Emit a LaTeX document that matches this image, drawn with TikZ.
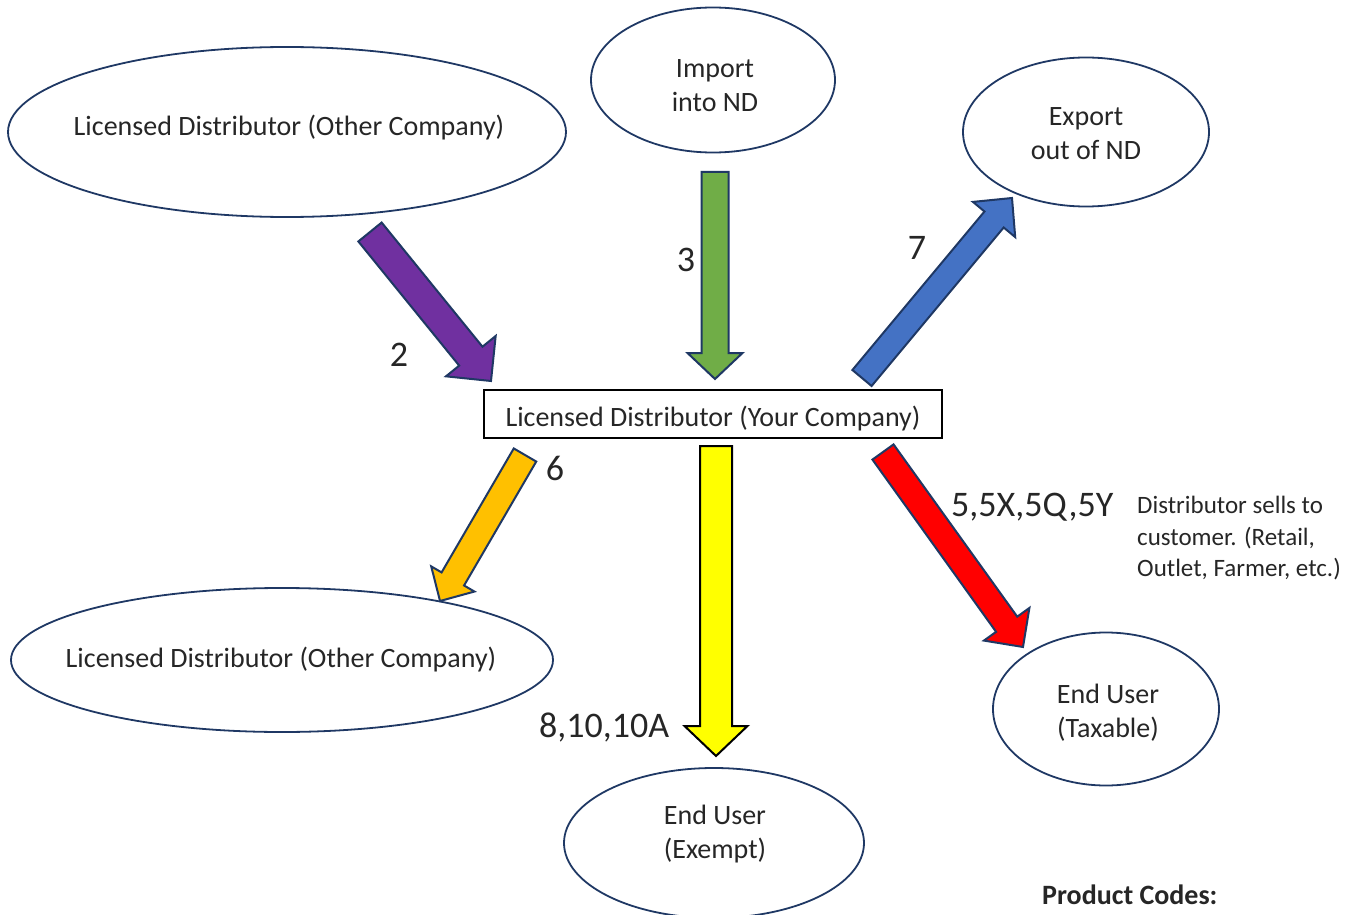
\documentclass[tikz,border=0pt]{standalone}
\usepackage{fontspec}
\setmainfont{Carlito}
\usetikzlibrary{calc,shapes.geometric}
\definecolor{navy}{HTML}{1F3864}
\definecolor{apurple}{HTML}{7030A0}
\definecolor{agreen}{HTML}{70AD47}
\definecolor{ablue}{HTML}{4472C4}
\definecolor{aorange}{HTML}{FFC000}
\definecolor{ayellow}{HTML}{FFFF00}
\definecolor{ared}{HTML}{FF0000}
\newcommand\blockarrow[7]{%
  \coordinate (ba-h) at ($(#4)!#7!(#3)$);
  \draw[line width=2pt, draw=#2, fill=#1, line join=miter]
    ($(#3)!#5!90:(#4)$) -- ($(ba-h)!#5!90:(#4)$) -- ($(ba-h)!#6!90:(#4)$) -- (#4)
    -- ($(ba-h)!#6!-90:(#4)$) -- ($(ba-h)!#5!-90:(#4)$) -- ($(#3)!#5!-90:(#4)$) -- cycle;
}
\tikzset{
  ell/.style={ellipse, draw=navy, line width=1.8pt, inner sep=0pt},
  txt/.style={font=\fontsize{28}{34}\selectfont, align=center, inner sep=0pt, text=black!85},
  num/.style={font=\fontsize{36}{40}\selectfont, inner sep=0pt, text=black!85},
  note/.style={font=\fontsize{25}{31.5}\selectfont, align=left, inner sep=0pt, text=black!85, anchor=north west},
}
\begin{document}
\begin{tikzpicture}[x=1pt,y=-1pt]
\useasboundingbox (0,0) rectangle (1358,915);
% ellipses
\node[ell, minimum width=558pt, minimum height=170pt] (odtop) at (287,132) {};
\node[txt] (odtopt) at (289,128) {Licensed Distributor (Other Company)};
\node[ell, minimum width=244pt, minimum height=145pt] (imp) at (713,80) {};
\node[txt] (impt) at (715,86) {Import\\into ND};
\node[ell, minimum width=246pt, minimum height=149pt] (exp) at (1086,132) {};
\node[txt] (expt) at (1086,134) {Export\\out of ND};
\node[draw=black, line width=1.2pt, minimum width=458pt, minimum height=48pt, inner sep=0pt] (you) at (713,414) {};
\node[txt] (yout) at (713,419) {Licensed Distributor (Your Company)};
\node[ell, minimum width=542pt, minimum height=144pt] (odbot) at (282,660) {};
\node[txt] (odbott) at (281,660) {Licensed Distributor (Other Company)};
\node[ell, minimum width=226pt, minimum height=153pt] (tax) at (1106,709) {};
\node[txt] (taxt) at (1108,713) {End User\\(Taxable)};
\node[ell, minimum width=300pt, minimum height=150pt] (exm) at (714,843) {};
\node[txt] (exmt) at (715,834) {End User\\(Exempt)};
% arrows
\coordinate (a2s) at (370,232); \coordinate (a2t) at (491,381);
\blockarrow{apurple}{navy}{a2s}{a2t}{15pt}{32pt}{32pt}
\coordinate (a3s) at (715,172); \coordinate (a3t) at (715,379);
\blockarrow{agreen}{navy}{a3s}{a3t}{13.5pt}{27.5pt}{26pt}
\coordinate (a7s) at (862,378); \coordinate (a7t) at (1012,198);
\blockarrow{ablue}{navy}{a7s}{a7t}{12.5pt}{27.5pt}{28pt}
\coordinate (a6s) at (525,455); \coordinate (a6t) at (440,601);
\blockarrow{aorange}{navy}{a6s}{a6t}{13pt}{25pt}{25.5pt}
\coordinate (a8s) at (716,446); \coordinate (a8t) at (716,756);
\blockarrow{ayellow}{black}{a8s}{a8t}{16pt}{31.5pt}{30pt}
\coordinate (a5s) at (883,452); \coordinate (a5t) at (1023,647);
\blockarrow{ared}{navy}{a5s}{a5t}{13pt}{28pt}{28pt}
% labels
\node[num] (l2) at (399,355) {2};
\node[num] (l3) at (686,260) {3};
\node[num] (l7) at (917,248) {7};
\node[num] (l6) at (555,468) {6};
\node[num, anchor=west] (l5) at (951,507) {5,5X,5Q,5Y};
\node[num, anchor=west] (l8) at (539,728) {8,10,10A};
\node[note] (desc) at (1137,496) {Distributor sells to\\customer. (Retail,\\Outlet, Farmer, etc.)};
\node[txt, font=\fontsize{28}{34}\selectfont\bfseries, anchor=west] (pc) at (1042,895) {Product Codes:};
\end{tikzpicture}
\end{document}
